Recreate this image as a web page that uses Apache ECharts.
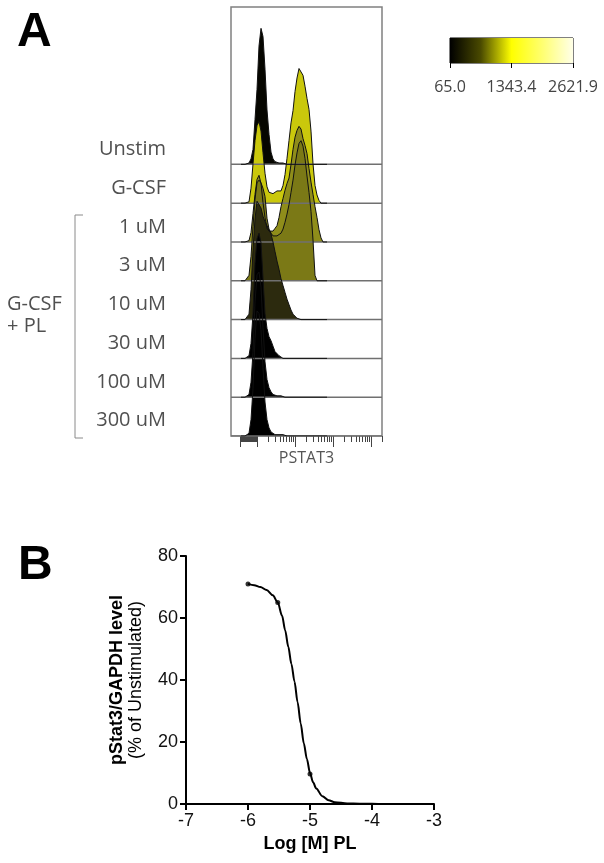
<!DOCTYPE html>
<html>
<head>
<meta charset="utf-8">
<script src="https://cdn.jsdelivr.net/npm/echarts@6/dist/echarts.min.js"></script>
<style>
  html, body { margin: 0; padding: 0; background: #fff; }
  #chart { width: 604px; height: 863px; }
</style>
</head>
<body>
<div id="chart"></div>
<script>
// ---------------- Panel A data ----------------
const laneLabels = ['Unstim', 'G-CSF', '1 uM', '3 uM', '10 uM', '30 uM', '100 uM', '300 uM'];
// display channel of PSTAT3 (logicle display scale)
const channels = [10,12,14,16,18,20,22,24,26,28,30,32,34,36,38,40,42,44,46,48,50,52,54,56,58,60,62,64,66,68,70,72,74,76,78,80,82,84,86,88,90,92,94,96];
// % of mode per channel
const unstim  = [0,0,0,0,1,4,11,33,55,87,100,94,70,40,22,9,4,2,1,1,1,1,1,0,0,0,0,0,0,0,0,0,0,0,0,0,0,0,0,0,0,0,0,0];
const gcsf    = [0,0,0,0,1,11,29,46,57,60,53,37,22,12,8,7,7,8,9,9,9,13,21,33,46,59,68,82,92,99,100,94,86,77,69,53,29,13,6,2,0,0,0,0];
const pl1uM   = [0,0,0,0,1,7,21,35,46,49,43,29,18,10,8,7,8,10,12,18,26,32,38,43,47,57,68,77,82,85,83,76,71,65,54,44,35,26,18,9,3,0,0,0];
const pl3uM   = [0,0,0,0,4,18,40,60,72,74,72,68,62,46,38,35,33,33,33,33,35,38,43,49,56,65,74,85,94,101,103,99,90,77,65,51,30,4,0,0,0,0,0,0];
const pl10uM  = [0,0,0,0,4,22,51,74,87,88,82,76,72,69,66,63,57,50,43,37,30,25,20,15,11,7,4,3,1,0,0,0,0,0,0,0,0,0,0,0,0,0,0,0];
const pl30uM  = [0,0,0,0,2,11,33,70,88,92,85,59,33,22,16,13,9,5,4,2,1,0,0,0,0,0,0,0,0,0,0,0,0,0,0,0,0,0,0,0,0,0,0,0];
const pl100uM = [0,0,0,0,2,11,33,70,90,92,81,51,26,13,7,4,2,1,1,1,1,0,0,0,0,0,0,0,0,0,0,0,0,0,0,0,0,0,0,0,0,0,0,0];
const pl300uM = [0,0,0,0,2,12,35,72,92,90,78,50,25,12,6,3,2,1,1,1,1,1,1,0,0,0,0,0,0,0,0,0,0,0,0,0,0,0,0,0,0,0,0,0];
const majorTicks = [9, 26, 64, 102, 140];
const minorTicks = [10,11,12,13,14,15,16,17,18,19,20,21,22,23,24,25,
  37.4,44.1,48.9,52.6,55.6,58.1,60.3,62.3,
  75.4,82.1,86.9,90.6,93.6,96.1,98.3,100.3,
  113.4,120.1,124.9,128.6,131.6,134.1,136.3,138.3,151];
const colorbarTicks = [65.0, 1343.4, 2621.9];

// ---------------- Panel B data ----------------
const curveLogM = [-6.0,-5.9,-5.8,-5.7,-5.6,-5.52,-5.45,-5.4,-5.35,-5.3,-5.25,-5.2,-5.15,-5.1,-5.05,-5.0,-4.95,-4.9,-4.8,-4.7,-4.6,-4.4,-4.2,-4.0,-3.8,-3.52];
const curvePct  = [71.0,70.6,70.0,69.0,67.3,65.0,60.7,56.0,50.7,45.2,39.5,32.8,26.0,19.6,14.5,10.0,7.0,5.0,2.5,1.2,0.6,0.2,0.1,0.05,0,0];
const pointLogM = [-6, -5.52, -5];
const pointPct  = [71, 65, 9.7];

// ---------------- layout / style ----------------
const laneCounts = [unstim, gcsf, pl1uM, pl3uM, pl10uM, pl30uM, pl100uM, pl300uM];
const laneColors = ['#060600', '#cac80c', '#8f8d1a', '#7b7916', '#2c2a0e', '#000000', '#000000', '#000000'];
const LANE_STEP = 28.53;
const HIST_YMAX = 315.4;
const CH_MAX = 151;
const LABEL_FONT = '"Open Sans", "DejaVu Sans", sans-serif';
const ARIAL = '"Liberation Sans", Arial, sans-serif';

const series = [];
laneCounts.forEach((counts, k) => {
  const base = (7 - k) * LANE_STEP;
  series.push({
    type: 'line', xAxisIndex: 0, yAxisIndex: 0, silent: true, symbol: 'none',
    data: [[0, base], [CH_MAX, base]],
    lineStyle: { color: '#707070', width: 1.5 }
  });
  series.push({
    type: 'line', xAxisIndex: 0, yAxisIndex: 0, silent: true, symbol: 'none',
    data: channels.map((c, i) => [c, base + counts[i]]),
    lineStyle: { color: '#111', width: 1 },
    areaStyle: { color: laneColors[k], opacity: 1, origin: base }
  });
});

// colour bar
series.push({
  type: 'line', xAxisIndex: 3, yAxisIndex: 3, silent: true, symbol: 'none',
  data: [[colorbarTicks[0], 1], [colorbarTicks[2], 1]],
  lineStyle: { width: 0, opacity: 0 },
  areaStyle: {
    opacity: 1,
    color: new echarts.graphic.LinearGradient(0, 0, 1, 0, [
      { offset: 0, color: '#000000' },
      { offset: 0.25, color: '#4a4a00' },
      { offset: 0.5, color: '#ffff00' },
      { offset: 0.75, color: '#ffff70' },
      { offset: 1, color: '#ffffe8' }
    ])
  }
});

// Panel B
series.push({
  type: 'line', xAxisIndex: 1, yAxisIndex: 1, silent: true, symbol: 'none',
  smooth: 0.3, smoothMonotone: 'x',
  data: curveLogM.map((x, i) => [x, curvePct[i]]),
  lineStyle: { color: '#000', width: 2 }
});
series.push({
  type: 'scatter', xAxisIndex: 1, yAxisIndex: 1, silent: true,
  symbol: 'circle', symbolSize: 5,
  data: pointLogM.map((x, i) => [x, pointPct[i]]),
  itemStyle: { color: '#000' }, z: 5
});

const option = {
  animation: false,
  backgroundColor: '#fff',
  grid: [
    { left: 231, top: 7, width: CH_MAX, height: 429, show: true, borderColor: '#808080', borderWidth: 1.5, backgroundColor: 'transparent' },
    { left: 186, top: 556, width: 248, height: 248 },
    { left: 172, top: 130, width: 10, height: 310 },
    { left: 450, top: 38, width: 123, height: 25, show: true, borderColor: '#000', borderWidth: 1 }
  ],
  xAxis: [
    { gridIndex: 0, type: 'value', min: 0, max: CH_MAX, position: 'bottom',
      axisLine: { show: false }, splitLine: { show: false },
      axisTick: { show: true, customValues: majorTicks, length: 11, lineStyle: { color: '#444', width: 1 } },
      axisLabel: { show: false },
      name: 'PSTAT3', nameLocation: 'middle', nameGap: 14,
      nameTextStyle: { fontFamily: LABEL_FONT, fontSize: 16, color: '#555' } },
    { gridIndex: 1, type: 'value', min: -7, max: -3, interval: 1,
      axisLine: { lineStyle: { color: '#000', width: 2 } },
      axisTick: { length: 6, lineStyle: { color: '#000', width: 2 } },
      splitLine: { show: false },
      axisLabel: { fontFamily: ARIAL, fontSize: 18, color: '#111', margin: 8 },
      name: 'Log [M] PL', nameLocation: 'middle', nameGap: 31,
      nameTextStyle: { fontFamily: ARIAL, fontSize: 18, fontWeight: 'bold', color: '#000' } },
    { gridIndex: 2, type: 'value', show: false },
    { gridIndex: 3, type: 'value', min: colorbarTicks[0], max: colorbarTicks[2],
      axisLine: { show: false }, splitLine: { show: false },
      axisTick: { show: true, customValues: colorbarTicks, length: 5, lineStyle: { color: '#000' } },
      axisLabel: { customValues: colorbarTicks, formatter: v => v.toFixed(1), fontFamily: LABEL_FONT, fontSize: 16, color: '#444', margin: 16 } },
    { gridIndex: 0, type: 'value', min: 0, max: CH_MAX, position: 'bottom',
      axisLine: { show: false }, splitLine: { show: false },
      axisTick: { show: true, customValues: minorTicks, length: 6, lineStyle: { color: '#444', width: 1 } },
      axisLabel: { show: false } }
  ],
  yAxis: [
    { gridIndex: 0, type: 'value', min: 0, max: HIST_YMAX, show: false },
    { gridIndex: 1, type: 'value', min: 0, max: 80, interval: 20,
      axisLine: { show: true, lineStyle: { color: '#000', width: 2 } },
      axisTick: { show: true, length: 6, lineStyle: { color: '#000', width: 2 } },
      splitLine: { show: false },
      axisLabel: { fontFamily: ARIAL, fontSize: 18, color: '#111', margin: 8 },
      name: '{b|pStat3/GAPDH level}\n{n|(% of Unstimulated)}',
      nameLocation: 'middle', nameRotate: 90, nameGap: 40,
      nameTextStyle: { rich: {
        b: { fontFamily: ARIAL, fontSize: 18, fontWeight: 'bold', color: '#000', lineHeight: 19 },
        n: { fontFamily: ARIAL, fontSize: 18, color: '#000', lineHeight: 19 }
      } } },
    { gridIndex: 2, type: 'category', inverse: true, data: laneLabels,
      axisLine: { show: false }, axisTick: { show: false }, splitLine: { show: false },
      axisLabel: { margin: 6, fontFamily: LABEL_FONT, fontSize: 20, color: '#505050' } },
    { gridIndex: 3, type: 'value', min: 0, max: 1, show: false }
  ],
  graphic: [
    { type: 'text', x: 17, y: 33, style: { text: 'A', font: 'bold 48px "Liberation Sans", Arial, sans-serif', fill: '#000', align: 'left', verticalAlign: 'middle' } },
    { type: 'text', x: 18, y: 566, style: { text: 'B', font: 'bold 48px "Liberation Sans", Arial, sans-serif', fill: '#000', align: 'left', verticalAlign: 'middle' } },
    { type: 'polyline', shape: { points: [[83, 215], [75, 215], [75, 438], [83, 438]] }, style: { stroke: '#8a8a8a', lineWidth: 1, fill: null } },
    { type: 'text', x: 7, y: 304, style: { text: 'G-CSF', font: '20px "Open Sans", "DejaVu Sans", sans-serif', fill: '#505050', align: 'left', verticalAlign: 'middle' } },
    { type: 'text', x: 7, y: 326, style: { text: '+ PL', font: '20px "Open Sans", "DejaVu Sans", sans-serif', fill: '#505050', align: 'left', verticalAlign: 'middle' } }
  ],
  series: series
};

const chart = echarts.init(document.getElementById('chart'), null, { renderer: 'canvas' });
chart.setOption(option);
</script>
</body>
</html>
